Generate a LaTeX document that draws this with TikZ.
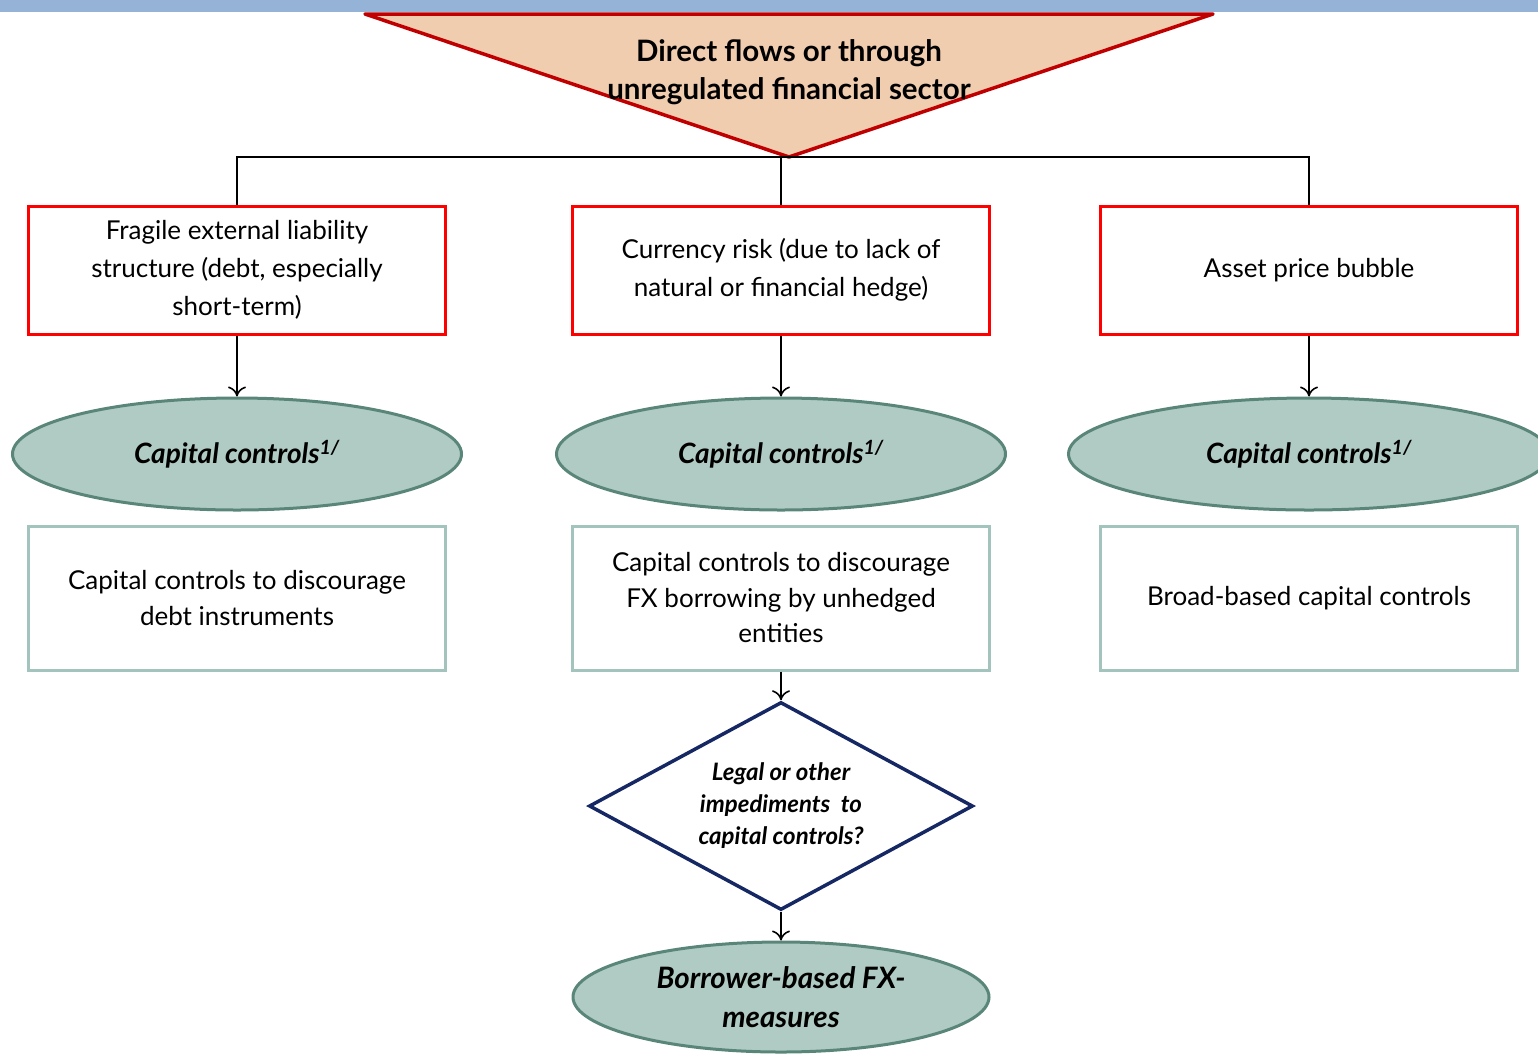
\documentclass[tikz,border=0pt]{standalone}
\usepackage{fontspec}
\setmainfont{Lato}
\usetikzlibrary{positioning}
\usetikzlibrary{shapes.geometric}
\usetikzlibrary{arrows.meta}

\definecolor{barblue}{RGB}{149,179,215}
\definecolor{peach}{RGB}{241,205,176}
\definecolor{darkred}{RGB}{192,0,0}
\definecolor{sage}{RGB}{176,203,195}
\definecolor{sagedark}{RGB}{89,134,120}
\definecolor{sagelight}{RGB}{163,196,188}
\definecolor{navy}{RGB}{22,40,100}

\begin{document}
\begin{tikzpicture}[x=1pt, y=-1pt,
    risk/.style = {draw=red, line width=3pt, minimum width=417pt, minimum height=128pt,
                   align=center, font=\fontsize{26}{38}\selectfont},
    policy/.style = {draw=sagelight, line width=3pt, minimum width=417pt, minimum height=144pt,
                     align=center, font=\fontsize{26}{35.5}\selectfont},
    tool/.style = {ellipse, draw=sagedark, fill=sage, line width=3pt, inner sep=0pt,
                   minimum width=449pt, minimum height=112pt, align=center,
                   font=\fontsize{28}{34}\selectfont\bfseries\itshape},
    query/.style = {diamond, draw=navy, line width=3.5pt, inner sep=0pt, aspect=1.85,
                    minimum width=384pt, minimum height=208pt, align=center,
                    font=\fontsize{24}{32}\selectfont\bfseries\itshape},
    arr/.style = {-{To[length=10pt,width=18pt,line width=1.6pt]}, line width=1.8pt},
    link/.style = {line width=1.6pt}]
    \useasboundingbox (0,0) rectangle (1538,1053);

    % header
    \fill[barblue] (0,0) rectangle (1538,12);
    \filldraw[fill=peach, draw=darkred, line width=3.5pt, line join=round]
        (365,14) -- (1213,14) -- (789,157) -- cycle;
    \coordinate (apex) at (789,157);
    \node[font=\fontsize{29.5}{38}\selectfont\bfseries, align=center] (source) at (789,72)
        {Direct flows or through\\unregulated financial sector};

    % risks
    \node[risk] (fragile) at (237,270) {Fragile external liability\\structure (debt, especially\\short-term)};
    \node[risk] (currency) at (781,270) {Currency risk (due to lack of\\natural or financial hedge)};
    \node[risk] (bubble) at (1309,270) {Asset price bubble};

    % tools
    \node[tool] (ccA) at (237,454) {Capital controls\textsuperscript{1/}};
    \node[tool] (ccB) at (781,454) {Capital controls\textsuperscript{1/}};
    \node[tool, minimum width=481pt] (ccC) at (1309,454) {Capital controls\textsuperscript{1/}};

    % measures
    \node[policy] (debt) at (237,598) {Capital controls to discourage\\debt instruments};
    \node[policy] (fx) at (781,598) {Capital controls to discourage\\FX borrowing by unhedged\\entities};
    \node[policy] (broad) at (1309,598) {Broad-based capital controls};

    \node[query] (legal) at (781,806) {Legal or other\\impediments~ to\\capital controls?};
    \node[tool, minimum width=416pt, minimum height=110pt,
          font=\fontsize{29.5}{39}\selectfont\bfseries\itshape] (borrower) at (781,997)
        {Borrower-based FX-\\measures};

    \draw[link] (fragile.north) |- (apex) -| (bubble.north);
    \draw[link] (currency.north) -- (currency.north |- apex);
    \draw[arr] (fragile) -- (ccA);
    \draw[arr] (currency) -- (ccB);
    \draw[arr] (bubble) -- (ccC);
    \draw[arr] (fx) -- (legal);
    \draw[arr] (legal) -- (borrower);
\end{tikzpicture}
\end{document}
